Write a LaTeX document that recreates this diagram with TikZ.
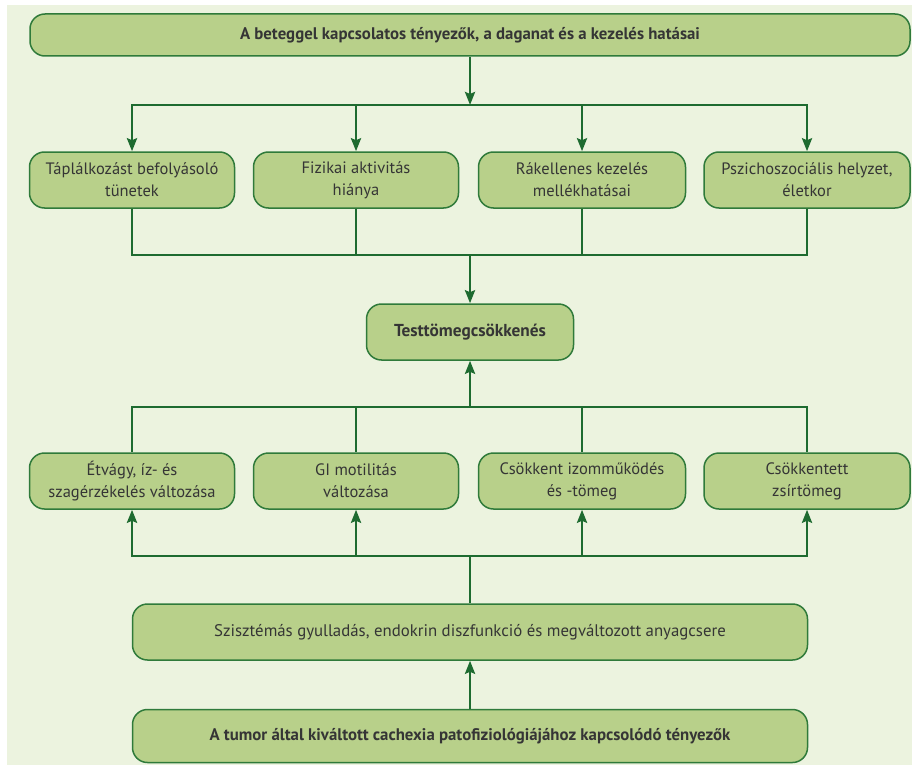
\documentclass[tikz,border=0pt]{standalone}
\usepackage{fontspec}
\setmainfont{PT Sans}
\usetikzlibrary{arrows.meta}
\definecolor{panel}{HTML}{ECF3DF}
\definecolor{boxfill}{HTML}{B8D08A}
\definecolor{boxline}{HTML}{2F7A3A}
\definecolor{linkgreen}{HTML}{1E6B30}
\definecolor{txt}{HTML}{353535}
\tikzstyle{box}=[rectangle, rounded corners=15pt, draw=boxline, fill=boxfill, line width=1.5pt, align=center, text=txt, inner sep=0pt, font=\fontsize{16.5}{22}\selectfont]
\tikzstyle{widebox}=[box, font=\fontsize{16.8}{20}\selectfont]
\tikzstyle{link}=[draw=linkgreen, line width=2.6pt]
\tikzstyle{arrow}=[link, -{Stealth[length=13pt, width=10pt, inset=2pt]}]

\begin{document}
\begin{tikzpicture}[x=1pt, y=-1pt]
		   \useasboundingbox (0,0) rectangle (912,765);
		   \fill[panel] (7,5) rectangle (912,765);
		   \begin{scope}
			   \node (top) at (470, 35)[widebox, minimum width=880, minimum height=42] {\bfseries A beteggel kapcsolatos tényezők, a daganat és a kezelés hatásai};
			   \node (t1) at (132, 180)[box, minimum width=205, minimum height=56] {Táplálkozást befolyásoló\\tünetek};
			   \node (t2) at (356, 180)[box, minimum width=205, minimum height=56] {Fizikai aktivitás\\hiánya};
			   \node (t3) at (582, 180)[box, minimum width=207, minimum height=56] {Rákellenes kezelés\\mellékhatásai};
			   \node (t4) at (807, 180)[box, minimum width=206, minimum height=56] {Pszichoszociális helyzet,\\életkor};
			   \node (loss) at (470, 332)[box, minimum width=207, minimum height=56, font=\fontsize{17.3}{22}\selectfont\bfseries] {Testtömegcsökkenés};
			   \node (b1) at (132, 481)[box, minimum width=205, minimum height=56] {Étvágy, íz- és\\szagérzékelés változása};
			   \node (b2) at (356, 481)[box, minimum width=205, minimum height=56] {GI motilitás\\változása};
			   \node (b3) at (582, 481)[box, minimum width=207, minimum height=56] {Csökkent izomműködés\\és -tömeg};
			   \node (b4) at (807, 481)[box, minimum width=206, minimum height=56] {Csökkentett\\zsírtömeg};
			   \node (sys) at (470, 632)[widebox, minimum width=675, minimum height=56] {Szisztémás gyulladás, endokrin diszfunkció és megváltozott anyagcsere};
			   \node (tumor) at (470, 736)[widebox, minimum width=675, minimum height=53] {\bfseries A tumor által kiváltott cachexia patofiziológiájához kapcsolódó tényezők};
			   \coordinate (j1) at (470, 105);
			   \coordinate (j2) at (470, 255);
			   \coordinate (j3) at (470, 407);
			   \coordinate (j4) at (470, 556);
		   \end{scope}
		   \begin{scope}
			   \draw [arrow] (top) -- (j1);
			   \draw [link, line cap=rect] (t1.north |- j1) -- (t4.north |- j1);
			   \draw [arrow] (t1.north |- j1) -- (t1);
			   \draw [arrow] (t2.north |- j1) -- (t2);
			   \draw [arrow] (t3.north |- j1) -- (t3);
			   \draw [arrow] (t4.north |- j1) -- (t4);
			   \draw [link] (t1) -- (t1.south |- j2);
			   \draw [link] (t2) -- (t2.south |- j2);
			   \draw [link] (t3) -- (t3.south |- j2);
			   \draw [link] (t4) -- (t4.south |- j2);
			   \draw [link, line cap=rect] (t1.south |- j2) -- (t4.south |- j2);
			   \draw [arrow] (j2) -- (loss);
			   \draw [arrow] (j3) -- (loss);
			   \draw [link, line cap=rect] (b1.north |- j3) -- (b4.north |- j3);
			   \draw [link] (b1.north |- j3) -- (b1);
			   \draw [link] (b2.north |- j3) -- (b2);
			   \draw [link] (b3.north |- j3) -- (b3);
			   \draw [link] (b4.north |- j3) -- (b4);
			   \draw [link, line cap=rect] (b1.south |- j4) -- (b4.south |- j4);
			   \draw [arrow] (b1.south |- j4) -- (b1);
			   \draw [arrow] (b2.south |- j4) -- (b2);
			   \draw [arrow] (b3.south |- j4) -- (b3);
			   \draw [arrow] (b4.south |- j4) -- (b4);
			   \draw [link] (sys) -- (j4);
			   \draw [arrow] (tumor) -- (sys);
		   \end{scope}
	   \end{tikzpicture}
\end{document}
